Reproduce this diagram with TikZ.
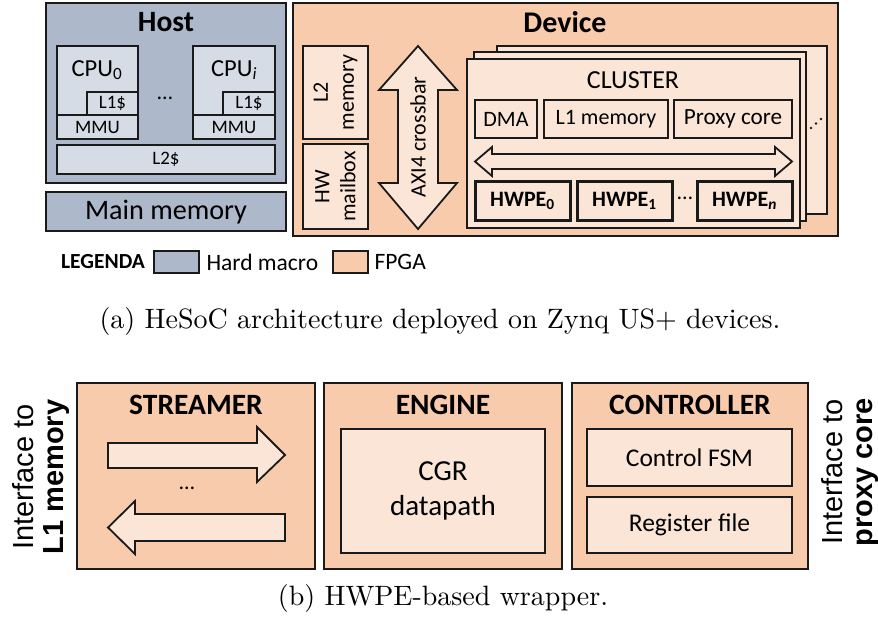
\documentclass[tikz,border=0pt]{standalone}
\usepackage{fontspec}
\newfontfamily\cali{Carlito}
\newfontfamily\arialf{Liberation Sans}
\newfontfamily\lmten{lmroman10-regular.otf}
\definecolor{hostfill}{HTML}{ADB9CA}
\definecolor{hostin}{HTML}{D6DCE5}
\definecolor{devfill}{HTML}{F8CBAD}
\definecolor{devin}{HTML}{FBE5D6}
\definecolor{edge}{HTML}{1A1A1A}
% \blk{style}{name}{x1}{y1}{x2}{y2}{text}: box spanning two corners
\newcommand\blk[7]{\node[#1, minimum width={(#5-#3)*1pt}, minimum height={(#6-#4)*1pt}] (#2) at ({(#3+#5)/2},{(#4+#6)/2}) {#7};}
\tikzset{
  outline/.style={draw=edge, line width=1.8pt, inner sep=0pt, outer sep=0pt, align=center},
  hostbox/.style={outline, fill=hostfill},
  hostinner/.style={outline, fill=hostin},
  devbox/.style={outline, fill=devfill},
  devinner/.style={outline, fill=devin},
  hwpebox/.style={devinner, line width=3pt, font=\cali\bfseries\fontsize{22}{26}\selectfont},
  flow/.style={draw=edge, line width=1.8pt, fill=devin, line join=miter},
  title/.style={font=\cali\bfseries\fontsize{29.5}{33}\selectfont},
  small/.style={font=\cali\fontsize{19}{22}\selectfont},
  mid/.style={font=\cali\fontsize{25.5}{30}\selectfont},
  legend/.style={font=\cali\fontsize{23.5}{27}\selectfont},
  side/.style={rotate=90, font=\arialf\fontsize{29}{33}\selectfont},
  caption/.style={font=\lmten\fontsize{28}{33}\selectfont}
}
\begin{document}
\begin{tikzpicture}[x=1pt, y=-1pt, font=\cali\fontsize{22}{26}\selectfont]
\useasboundingbox (0,0) rectangle (878,625);

% ---------------- Host ----------------
\blk{hostbox}{host}{46}{3}{286}{183}{}
\node[title] (hosttitle) at (166,22) {Host};
\blk{hostinner}{cpu0}{57}{46}{138}{139}{}
\node[font=\cali\fontsize{24.5}{28}\selectfont] (cpu0lbl) at (97,70) {CPU\textsubscript{0}};
\blk{hostinner,small}{l1a}{87}{92}{138}{115}{L1\$}
\blk{hostinner,small}{mmua}{57}{115}{138}{139}{MMU}
\node (hostdots) at (165,98) {…};
\blk{hostinner}{cpui}{193}{46}{275}{139}{}
\node[font=\cali\fontsize{24.5}{28}\selectfont] (cpuilbl) at (234,70) {CPU\textsubscript{\textit{i}}};
\blk{hostinner,small}{l1b}{223}{92}{275}{115}{L1\$}
\blk{hostinner,small}{mmub}{193}{115}{275}{139}{MMU}
\blk{hostinner,small}{l2c}{57}{145}{275}{174}{L2\$}
\blk{hostbox}{mainmem}{46}{192}{286}{231}{}
\node[font=\cali\fontsize{28.2}{32}\selectfont] (mainlbl) at (166,212) {Main memory};

% ---------------- Device ----------------
\blk{devbox}{device}{293}{3}{838}{236}{}
\node[title, font=\cali\bfseries\fontsize{30}{34}\selectfont] (devtitle) at (565,22) {Device};
\blk{devinner}{l2mem}{303}{46}{368}{139}{}
\node[rotate=90, align=center] (l2lbl) at (l2mem.center) {L2\\memory};
\blk{devinner}{mailbox}{303}{144}{368}{229}{}
\node[rotate=90, align=center] (mblbl) at (mailbox.center) {HW\\mailbox};
% AXI4 crossbar: vertical double arrow
\path[flow] (418,46) -- (457,90) -- (438,90) -- (438,183) -- (457,183) -- (418,229)
  -- (379,183) -- (398,183) -- (398,90) -- (379,90) -- cycle;
\node[rotate=90] (axilbl) at (418,137) {AXI4 crossbar};

% Cluster stack (back to front)
\blk{devinner}{clusterc}{497}{46}{827}{214}{}
\blk{devinner}{clusterb}{474}{52}{806}{221}{}
\blk{devinner}{cluster}{467}{59}{800}{228}{}
\node[font=\cali\fontsize{26}{30}\selectfont] (clusterlbl) at (633,80) {CLUSTER};
\blk{devinner}{dma}{475}{100}{537}{138}{DMA}
\blk{devinner}{l1mem}{544}{100}{668}{138}{L1 memory}
\blk{devinner,font=\cali\fontsize{23.2}{27}\selectfont}{proxy}{674}{100}{792}{138}{Proxy core}
\foreach \dx/\dy in {811/128, 816/123.5, 821/119}
  \fill[edge] (\dx,\dy) circle (1.3);
% cluster interconnect: horizontal double arrow
\path[flow] (475,161.5) -- (492,147) -- (492,154) -- (775,154) -- (775,147) -- (792,161.5)
  -- (775,176) -- (775,169) -- (492,169) -- (492,176) -- cycle;
\blk{hwpebox}{hwpe0}{475}{181}{570}{220}{HWPE\textsubscript{0}}
\blk{hwpebox}{hwpe1}{577}{181}{672}{220}{HWPE\textsubscript{1}}
\node (hwpedots) at (685,198) {…};
\blk{hwpebox}{hwpen}{697}{181}{792}{220}{HWPE\textsubscript{\textit{n}}}

% ---------------- Legend ----------------
\node[font=\cali\bfseries\fontsize{21.5}{25}\selectfont] (legenda) at (103,262) {LEGENDA};
\blk{hostbox}{leghard}{154}{251}{199}{273}{}
\node[anchor=west, legend] (leghardlbl) at (203,262) {Hard macro};
\blk{devbox}{legfpga}{333}{251}{368}{273}{}
\node[anchor=west, legend] (legfpgalbl) at (371,262) {FPGA};

\node[caption] (capa) at (440,321) {(a) HeSoC architecture deployed on Zynq US+ devices.};

% ---------------- HWPE wrapper ----------------
\blk{devbox}{streamer}{77}{383}{315}{569}{}
\node[title] (strlbl) at (196,405) {STREAMER};
\path[flow] (108,443) -- (257,443) -- (257,427) -- (285,455) -- (257,482) -- (257,468) -- (108,468) -- cycle;
\path[flow] (285,514) -- (135,514) -- (135,501) -- (108,527.5) -- (135,554) -- (135,541) -- (285,541) -- cycle;
\node (strdots) at (187,488) {…};

\blk{devbox}{engine}{324}{383}{562}{569}{}
\node[title] (englbl) at (443,405) {ENGINE};
\blk{devinner,font=\cali\fontsize{29}{35}\selectfont}{cgr}{341}{429}{545}{553}{CGR\\datapath}

\blk{devbox}{controller}{572}{383}{808}{569}{}
\node[title] (ctrllbl) at (690,405) {CONTROLLER};
\blk{devinner,mid}{fsm}{587}{429}{792}{486}{Control FSM}
\blk{devinner,mid}{regfile}{587}{497}{792}{553}{Register file}

% interface labels
\node[side] (ifl1) at (23,477) {Interface to};
\node[side, font=\arialf\bfseries\fontsize{29}{33}\selectfont] (ifl2) at (57,477) {L1 memory};
\node[side] (ifr1) at (832,472) {Interface to};
\node[side, font=\arialf\bfseries\fontsize{29}{33}\selectfont] (ifr2) at (868,472) {proxy core};

\node[caption] (capb) at (443,598) {(b) HWPE-based wrapper.};
\end{tikzpicture}
\end{document}
